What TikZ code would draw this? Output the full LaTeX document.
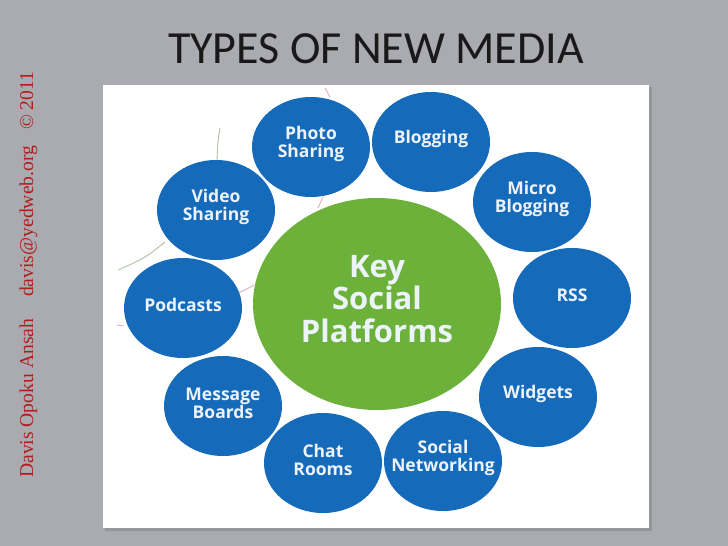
\documentclass[tikz,border=0pt]{standalone}
\usepackage{fontspec}
\setmainfont{Liberation Serif}
\newfontfamily\labfont{Open Sans}
\newfontfamily\titlefont{Carlito}
\usetikzlibrary{shapes.geometric}
\definecolor{bggray}{RGB}{170,171,176}
\definecolor{cblue}{RGB}{22,106,186}
\definecolor{cgreen}{RGB}{108,177,58}
\definecolor{clabel}{RGB}{236,243,250}
\definecolor{cred}{RGB}{176,30,30}
\definecolor{arcgreen}{RGB}{175,192,165}
\definecolor{arcpink}{RGB}{222,172,192}
\tikzset{
  bubble/.style={ellipse, fill=cblue, draw=none, inner sep=0pt,
    minimum width=118pt, minimum height=100pt},
  bt/.style={text=clabel, align=center, inner sep=0pt, yshift=3pt,
    font=\labfont\bfseries\fontsize{17.5}{18}\selectfont},
  hub/.style={ellipse, fill=cgreen, draw=none, inner sep=0pt,
    minimum width=248pt, minimum height=212pt},
  ht/.style={text=clabel, align=center, inner sep=0pt, yshift=5pt,
    font=\labfont\bfseries\fontsize{31}{32.5}\selectfont},
  faintgreen/.style={draw=arcgreen, line width=0.9pt},
  faintpink/.style={draw=arcpink, line width=0.9pt}
}
\begin{document}
\begin{tikzpicture}[x=1pt,y=-1pt]
\useasboundingbox (0,0) rectangle (728,546);
\fill[bggray] (0,0) rectangle (728,546);
% picture panel
\fill[black, opacity=0.12] (105,87) rectangle (652,531);
\fill[white] (103,85) rectangle (649,528);
% faint background arcs
\draw[faintgreen] (220,128) .. controls (218,140) .. (217,160);
\draw[faintgreen] (165,242) .. controls (145,258) .. (118,270);
\draw[faintpink] (117,325) -- (124,326);
\draw[faintpink] (238,293) .. controls (245,290) .. (254,285);
\draw[faintpink] (323,197) -- (318,208);
\draw[faintpink] (325,88) -- (330,97);
% hub
\node[hub, label={[ht]center:{Key\\Social\\Platforms}}] (hub) at (377,304) {};
% bubbles
\node[bubble, label={[bt]center:{Photo\\Sharing}}] (photo) at (311,147) {};
\node[bubble, label={[bt]center:{Blogging}}] (blog) at (431,142) {};
\node[bubble, label={[bt]center:{Micro\\Blogging}}] (micro) at (532,202) {};
\node[bubble, label={[bt]center:{RSS}}] (rss) at (572,298) {};
\node[bubble, label={[bt]center:{Widgets}}] (widgets) at (538,397) {};
\node[bubble, label={[bt]center:{Social\\Networking}}] (social) at (443,461) {};
\node[bubble, label={[bt]center:{Chat\\Rooms}}] (chat) at (323,463) {};
\node[bubble, label={[bt]center:{Message\\Boards}}] (message) at (223,406) {};
\node[bubble, label={[bt]center:{Podcasts}}] (podcasts) at (183,308) {};
\node[bubble, label={[bt]center:{Video\\Sharing}}] (video) at (216,210) {};
% title
\node[anchor=base, text=black!90, font=\titlefont\fontsize{46}{46}\selectfont] (title) at (376,63) {TYPES OF NEW MEDIA};
% footer (vertical)
\node[rotate=90, anchor=base west, inner sep=0pt, text=cred, font=\fontsize{19.6}{20}\selectfont] (footer) at (33,478)
  {Davis Opoku Ansah\hspace{22pt}davis@yedweb.org\hspace{16pt}\textcopyright{} 2011};
\end{tikzpicture}
\end{document}
